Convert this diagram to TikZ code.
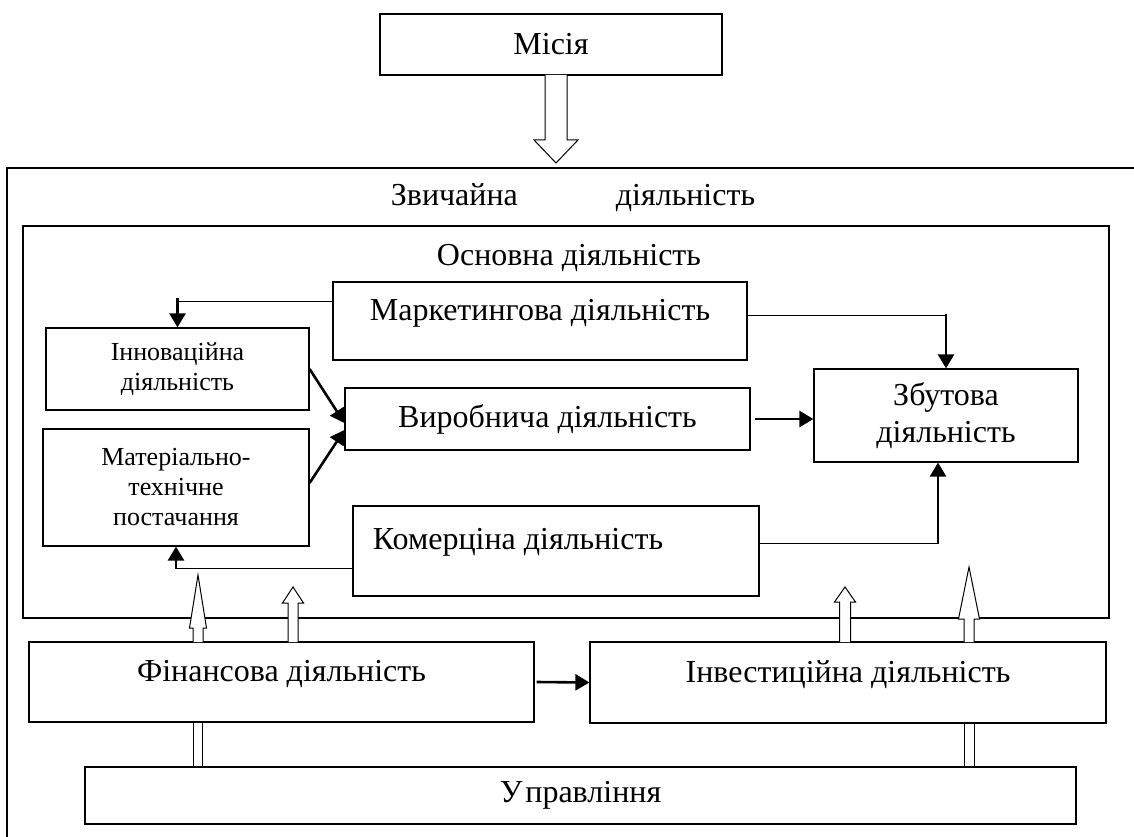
\documentclass[tikz,border=0pt]{standalone}
\usepackage{fontspec}
\setmainfont{Liberation Serif}
\usetikzlibrary{arrows.meta}

\newcommand{\upblock}[6]{%
	\draw[block] (#1-#5,#2) -- (#1-#5,#3) -- (#1-#6,#3) -- (#1,#4)
		-- (#1+#6,#3) -- (#1+#5,#3) -- (#1+#5,#2);}

\tikzset{
	box/.style = {draw, line width = 1.2pt, inner sep = 0pt},
	big/.style = {font = \fontsize{32}{37}\selectfont, align = center},
	small/.style = {font = \fontsize{26}{30}\selectfont, align = center},
	link/.style = {line width = 1pt},
	arr/.style = {line width = 2.6pt, -{Triangle[length = 14pt, width = 16pt]}},
	block/.style = {line width = 1pt, fill = white},
}

\begin{document}
\begin{tikzpicture}[x = 1pt, y = -1pt]
	\useasboundingbox (0,0) rectangle (1134,837);
	\clip (0,0) rectangle (1134,837);

	\draw[line width = 1.2pt] (7,168) rectangle (1200,900);
	\node[big] (zv) at (573,198) {Звичайна\hspace{98pt}діяльність};
	\node[box, minimum width = 1086pt, minimum height = 392pt] (osn) at (566,422) {};
	\node[big] (osnT) at (569,258) {Основна діяльність};

	\node[box, big, minimum width = 342pt, minimum height = 61pt] (mis) at (551,44.5) {Місія};
	\node[box, minimum width = 414pt, minimum height = 78pt,
		label = {[big, yshift = 8pt]center:Маркетингова діяльність}] (mark) at (540,321) {};
	\node[box, small, minimum width = 263pt, minimum height = 82pt] (inn) at (177.5,369) {Інноваційна\\діяльність};
	\node[box, small, minimum width = 266pt, minimum height = 117pt] (mat) at (176,487.5) {Матеріально-\\технічне\\постачання};
	\node[box, big, minimum width = 405pt, minimum height = 62pt] (vyr) at (547.5,419) {Виробнича діяльність};
	\node[box, big, minimum width = 264pt, minimum height = 93pt] (zbut) at (946,415.5) {Збутова\\діяльність};
	\node[box, minimum width = 406pt, minimum height = 90pt,
		label = {[big, xshift = -38pt, yshift = 9pt]center:Комерціна діяльність}] (kom) at (556,551) {};
	\node[box, minimum width = 505pt, minimum height = 80pt,
		label = {[big, yshift = 8pt]center:Фінансова діяльність}] (fin) at (281.5,682) {};
	\node[box, minimum width = 516pt, minimum height = 81pt,
		label = {[big, yshift = 8pt]center:Інвестиційна діяльність}] (inv) at (848,682.5) {};
	\node[box, big, minimum width = 991pt, minimum height = 57pt] (upr) at (580.5,795.5) {У\kern3pt правління};

	\coordinate (m1) at ([yshift = 20pt]mark.west);
	\coordinate (m2) at ([yshift = 6pt]mark.east);
	\coordinate (k1) at ([yshift = 8pt]kom.east);
	\coordinate (k2) at ([yshift = -17pt]kom.west);
	\coordinate (z1) at ([xshift = -8pt]zbut.south);

	\draw[link] (m1) -- (m1 -| inn.north);
	\draw[arr] (m1 -| inn.north) ++(0,-3) -- (inn.north);
	\draw[link] (m2) -- (m2 -| zbut.north);
	\draw[arr] (m2 -| zbut.north) ++(0,-1) -- (zbut.north);
	\draw[arr] (vyr.east) ++(4,0) -- (vyr.east -| zbut.west);
	\draw[arr] (inn.east) -- ([yshift = -4pt]vyr.west);
	\draw[arr] ([yshift = 4.5pt]mat.east) -- ([yshift = -11pt]vyr.west);
	\draw[link] (k1) -- (k1 -| z1);
	\draw[arr] (k1 -| z1) ++(0,1) -- (z1);
	\draw[link] (k2) -- (k2 -| mat.south);
	\draw[arr] (k2 -| mat.south) ++(0,1) -- (mat.south);
	\draw[arr] (fin.east) ++(2,0) -- (inv.west);

	\upblock{556}{75}{140}{163}{11}{22}
	\upblock{198}{642}{628}{575}{5}{8.5}
	\upblock{293}{642}{603}{587}{5}{10.5}
	\upblock{845}{642}{602}{587}{5.5}{10.5}
	\upblock{969}{642}{619}{567}{5}{10.5}
	\draw[block] (193.5,722) -- (193.5,767) (202.5,722) -- (202.5,767);
	\draw[block] (964,723) -- (964,767) (974,723) -- (974,767);
\end{tikzpicture}
\end{document}
